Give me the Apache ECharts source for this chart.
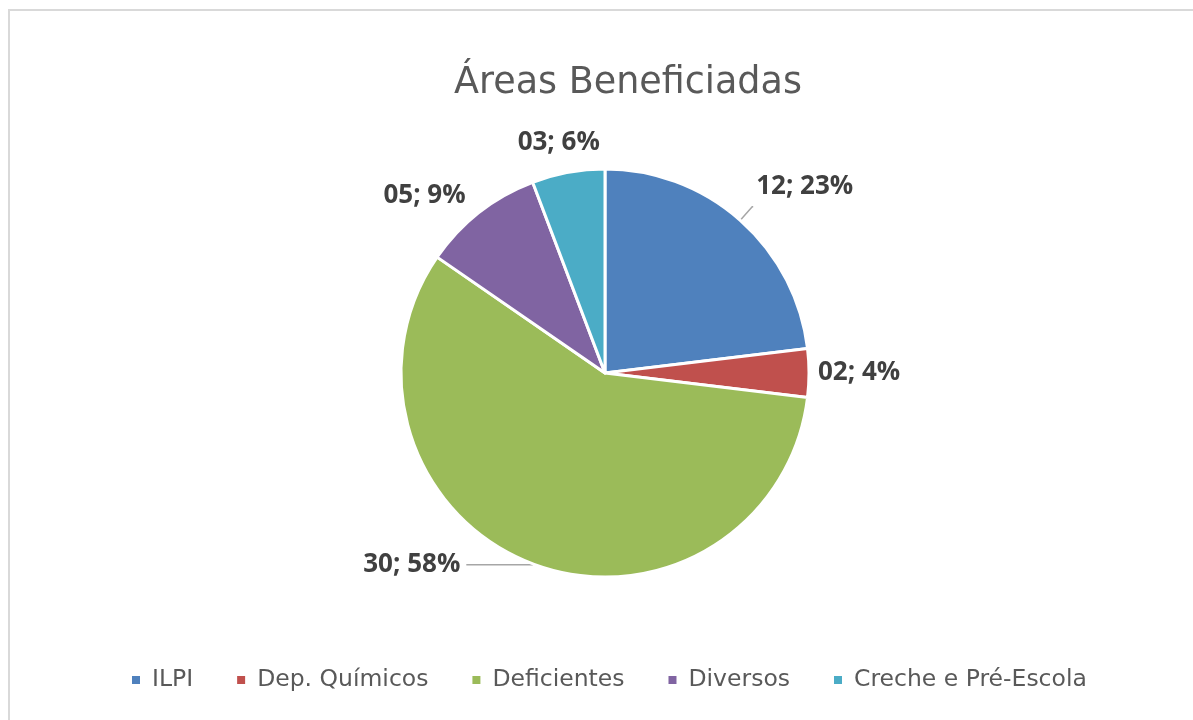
<!DOCTYPE html>
<html>
<head>
<meta charset="utf-8">
<script src="https://cdn.jsdelivr.net/npm/echarts@6/dist/echarts.min.js"></script>
<style>
html,body{margin:0;padding:0;background:#fff;overflow:hidden;width:1193px;height:720px;}
#frame{position:absolute;left:8px;top:9px;width:1185px;height:711px;border-left:2px solid #d9d9d9;border-top:2px solid #d9d9d9;box-sizing:border-box;}
#chart{position:absolute;left:0;top:0;width:1193px;height:720px;}
</style>
</head>
<body>
<div id="frame"></div>
<div id="chart"></div>
<script>
const titleText = 'Áreas Beneficiadas';
const categories = ['ILPI', 'Dep. Químicos', 'Deficientes', 'Diversos', 'Creche e Pré-Escola'];
const values = [12, 2, 30, 5, 3];
const percentLabels = [23, 4, 58, 9, 6];
const colors = ['#4F81BD', '#C0504D', '#9BBB59', '#8064A2', '#4BACC6'];

// per-slice label placement tuning (leader line lengths)
const labelTweaks = [
  {len: 18, len2: 1, dist: 3, line: true, raise: true},
  {len: 4, len2: 0, dist: 5, line: false, raise: false},
  {len: 1, len2: 66, dist: 6, line: true, raise: false},
  {len: 22, len2: 0, dist: 0, line: false, raise: false},
  {len: 30, len2: -37, dist: 0, line: false, raise: false}
];

const pad2 = v => (v < 10 ? '0' : '') + v;

const data = categories.map((name, i) => {
  const t = labelTweaks[i];
  const txt = pad2(values[i]) + '; ' + percentLabels[i] + '%';
  return {
    name: name,
    value: values[i],
    itemStyle: {color: colors[i]},
    label: t.raise
      ? {distanceToLabelLine: t.dist, formatter: txt + '\n ', lineHeight: 41}
      : {distanceToLabelLine: t.dist, formatter: txt},
    labelLine: {
      length: t.len,
      length2: t.len2,
      lineStyle: {color: '#a6a6a6', width: 1.5, opacity: t.line ? 1 : 0}
    }
  };
});

const chart = echarts.init(document.getElementById('chart'), null, {renderer: 'canvas'});
chart.setOption({
  animation: false,
  backgroundColor: 'transparent',
  title: {
    text: titleText,
    left: 623,
    top: 79,
    textAlign: 'center',
    textVerticalAlign: 'middle',
    textStyle: {fontFamily: 'DejaVu Sans', fontSize: 36.5, fontWeight: 'normal', color: '#595959'}
  },
  legend: {
    top: 663,
    left: 125,
    itemWidth: 10,
    itemHeight: 10,
    itemGap: 42,
    icon: 'rect',
    data: categories,
    textStyle: {fontFamily: 'DejaVu Sans', fontSize: 23.5, color: '#595959', padding: [0, 0, 0, 6]}
  },
  series: [{
    type: 'pie',
    center: [605, 373],
    radius: [0, 204],
    startAngle: 90,
    clockwise: true,
    avoidLabelOverlap: false,
    itemStyle: {borderColor: '#ffffff', borderWidth: 3},
    label: {
      show: true,
      position: 'outside',
      fontFamily: 'Open Sans',
      fontWeight: 'bold',
      fontSize: 26,
      color: '#404040'
    },
    labelLine: {show: true, smooth: false},
    emphasis: {disabled: true},
    data: data
  }]
});
</script>
</body>
</html>
